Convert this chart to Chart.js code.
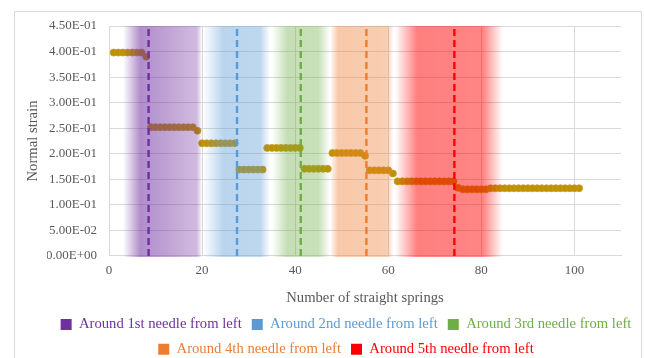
<!DOCTYPE html>
<html>
<head>
<meta charset="utf-8">
<script src="https://cdn.jsdelivr.net/npm/chart.js@4/dist/chart.umd.min.js"></script>
<style>
  body { margin: 0; background: #fff; }
  #wrap { position: relative; width: 645px; height: 358px; }
  #frame { position: absolute; left: 14px; top: 11px; width: 626px; height: 360px; border: 1px solid #d9d9d9; pointer-events: none; }
</style>
</head>
<body>
<div id="wrap">
  <canvas id="chart"></canvas>
  <div id="frame"></div>
</div>
<script>
// Data
const springs = [
  1, 2, 3, 4, 5, 6, 7, 8, 9, 10,
  11, 12, 13, 14, 15, 16, 17, 18, 19, 20,
  21, 22, 23, 24, 25, 26, 27, 28, 29, 30,
  31, 32, 33, 34, 35, 36, 37, 38, 39, 40,
  41, 42, 43, 44, 45, 46, 47, 48, 49, 50,
  51, 52, 53, 54, 55, 56, 57, 58, 59, 60,
  61, 62, 63, 64, 65, 66, 67, 68, 69, 70,
  71, 72, 73, 74, 75, 76, 77, 78, 79, 80,
  81, 82, 83, 84, 85, 86, 87, 88, 89, 90,
  91, 92, 93, 94, 95, 96, 97, 98, 99, 100,
  101
];
const strain = [
  0.398, 0.398, 0.398, 0.398, 0.398, 0.398, 0.398, 0.390, 0.252, 0.252,
  0.252, 0.252, 0.252, 0.252, 0.252, 0.252, 0.252, 0.252, 0.245, 0.2205,
  0.2205, 0.2205, 0.2205, 0.2205, 0.2205, 0.2205, 0.2205, 0.169, 0.169, 0.169,
  0.169, 0.169, 0.169, 0.2115, 0.2115, 0.2115, 0.2115, 0.2115, 0.2115, 0.2115,
  0.2115, 0.1705, 0.1705, 0.1705, 0.1705, 0.1705, 0.1705, 0.2015, 0.2015, 0.2015,
  0.2015, 0.2015, 0.2015, 0.2015, 0.196, 0.1675, 0.1675, 0.1675, 0.1675, 0.1675,
  0.1615, 0.146, 0.146, 0.146, 0.146, 0.146, 0.146, 0.146, 0.146, 0.146,
  0.146, 0.146, 0.146, 0.146, 0.1335, 0.1305, 0.1305, 0.1305, 0.1305, 0.1305,
  0.1305, 0.1325, 0.1325, 0.1325, 0.1325, 0.1325, 0.1325, 0.1325, 0.1325, 0.1325,
  0.1325, 0.1325, 0.1325, 0.1325, 0.1325, 0.1325, 0.1325, 0.1325, 0.1325, 0.1325,
  0.1325
];

const needleLabels = [
  'Around 1st needle from left',
  'Around 2nd needle from left',
  'Around 3rd needle from left',
  'Around 4th needle from left',
  'Around 5th needle from left'
];
const needleX = [8.5, 27.5, 41.2, 55.3, 74.2];

// shaded zone around each needle (x in springs): fade in, full, fade out, end
const bandStart = [3.0, 20.2, 35.0, 47.5, 61.5];
const bandFull = [6.7, 24.5, 38.3, 49.2, 66.2];
const bandFade = [18.9, 32.5, 45.0, 59.8, 80.4];
const bandEnd = [20.0, 34.6, 47.5, 61.1, 84.5];

const xTicks = [0, 20, 40, 60, 80, 100];
const yTicks = [0, 0.05, 0.10, 0.15, 0.20, 0.25, 0.30, 0.35, 0.40, 0.45];

// Styles
const needleColors = ['#7030A0', '#5B9BD5', '#70AD47', '#ED7D31', '#FF0000'];
const needleRgb = ['112,48,160', '91,155,213', '112,173,71', '237,125,49', '255,0,0'];
const peakAlpha = [0.55, 0.42, 0.40, 0.42, 0.50];
const tailAlpha = [0.33, 0.40, 0.38, 0.38, 0.48];
const serif = 'Liberation Serif';
const textGrey = '#595959';
const gridGrey = '#d9d9d9';

function sci(v) {
  const parts = Number(v).toExponential(2).split('e');
  const e = parseInt(parts[1], 10);
  return parts[0] + 'E' + (e < 0 ? '-' : '+') + String(Math.abs(e)).padStart(2, '0');
}

const points = springs.map((s, i) => ({ x: s, y: strain[i] }));
const pointsIndex = needleX.length;

const datasets = needleX.map((x, i) => ({
  label: needleLabels[i],
  data: [{ x: x, y: yTicks[0] }, { x: x, y: yTicks[yTicks.length - 1] }],
  showLine: true,
  borderColor: needleColors[i],
  backgroundColor: needleColors[i],
  borderWidth: 2.4,
  borderDash: [7, 4],
  pointRadius: 0
}));
datasets.push({
  label: 'Normal strain',
  data: points,
  showLine: false,
  pointRadius: 3.5,
  pointBorderWidth: 0.8,
  pointBackgroundColor: '#BF9000',
  pointBorderColor: '#C89C18'
});

// Shaded zones go over the points but under the needles
const bandPlugin = {
  id: 'bands',
  afterDatasetDraw(chart, args) {
    if (args.index !== pointsIndex) return;
    const { ctx, chartArea } = chart;
    const xs = chart.scales.x;
    ctx.save();
    ctx.beginPath();
    ctx.rect(chartArea.left, chartArea.top, chartArea.right - chartArea.left, chartArea.bottom - chartArea.top + 1);
    ctx.clip();
    bandStart.forEach((start, i) => {
      const x0 = xs.getPixelForValue(start);
      const x1 = xs.getPixelForValue(bandEnd[i]);
      const span = bandEnd[i] - start;
      const g = ctx.createLinearGradient(x0, 0, x1, 0);
      const c = needleRgb[i];
      g.addColorStop(0, 'rgba(' + c + ',0)');
      g.addColorStop((bandFull[i] - start) / span, 'rgba(' + c + ',' + peakAlpha[i] + ')');
      g.addColorStop((bandFade[i] - start) / span, 'rgba(' + c + ',' + tailAlpha[i] + ')');
      g.addColorStop(1, 'rgba(' + c + ',0)');
      ctx.fillStyle = g;
      ctx.fillRect(x0, chartArea.top, x1 - x0, chartArea.bottom - chartArea.top + 1);
    });
    ctx.restore();
  }
};

new Chart(document.getElementById('chart'), {
  type: 'scatter',
  data: { datasets: datasets },
  plugins: [bandPlugin],
  options: {
    responsive: true,
    maintainAspectRatio: false,
    animation: false,
    layout: { padding: { left: 47, right: 0, top: 26, bottom: -8.5 } },
    plugins: {
      tooltip: { enabled: false },
      legend: {
        position: 'bottom',
        labels: {
          font: { family: serif, size: 14.67 },
          boxWidth: 11,
          boxHeight: 11,
          padding: 10,
          filter: item => item.datasetIndex < pointsIndex,
          generateLabels: chart => chart.data.datasets.map((ds, i) => ({
            text: ds.label,
            fillStyle: needleColors[i] || '#BF9000',
            strokeStyle: needleColors[i] || '#BF9000',
            lineWidth: 0,
            fontColor: needleColors[i] || textGrey,
            hidden: false,
            datasetIndex: i
          }))
        }
      }
    },
    scales: {
      x: {
        type: 'linear',
        min: 0,
        max: 110,
        afterBuildTicks: s => { s.ticks = xTicks.map(v => ({ value: v })); },
        grid: { color: gridGrey, drawTicks: false },
        border: { color: gridGrey },
        ticks: { color: textGrey, font: { family: serif, size: 13 }, padding: 7 },
        title: {
          display: true,
          text: 'Number of straight springs',
          color: textGrey,
          font: { family: serif, size: 14.67 },
          padding: { top: 4, bottom: 0 }
        }
      },
      y: {
        type: 'linear',
        min: 0,
        max: 0.45,
        afterBuildTicks: s => { s.ticks = yTicks.map(v => ({ value: v })); },
        afterFit: s => { s.width = 62; },
        grid: { color: gridGrey, drawTicks: false },
        border: { color: gridGrey },
        ticks: { color: textGrey, font: { family: serif, size: 13 }, padding: 12, callback: v => sci(v) },
        title: {
          display: true,
          text: 'Normal strain',
          color: textGrey,
          font: { family: serif, size: 14.67 },
          padding: { top: -22.8, bottom: 0 }
        }
      },
      yR: {
        type: 'linear',
        position: 'right',
        display: true,
        afterFit: s => { s.width = 24; },
        grid: { display: false, drawTicks: false },
        border: { display: false },
        ticks: { display: false }
      }
    }
  }
});
</script>
</body>
</html>
